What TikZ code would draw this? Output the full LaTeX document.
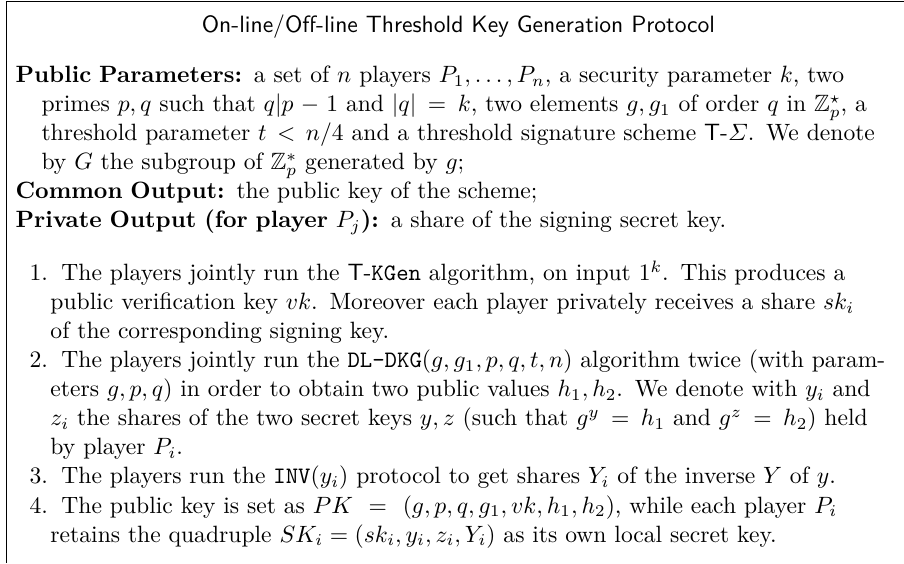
\documentclass[tikz,border=0pt]{standalone}
\usepackage{amsmath,amssymb}

\newcommand{\paramitem}[1]{\noindent\hangindent=11pt\hangafter=1\textbf{#1}}
\newcommand{\stepitem}[1]{\noindent\hangindent=8.9pt\hangafter=1\makebox[7.8pt][r]{#1}\hspace{5.75pt}}

\tikzset{
  frame/.style={line width=0.5pt},
  heading/.style={anchor=base, inner sep=0pt, font=\sffamily},
  body/.style={anchor=base west, inner sep=0pt, font=\fontsize{10}{12.3}\selectfont}
}

\begin{document}
\begin{tikzpicture}

          \useasboundingbox (0,0) rectangle (383.1pt,-238.6pt);
          \draw[frame] (383.1pt,-0.7pt) -- (2.8pt,-0.7pt) -- (2.8pt,-238.6pt);

          \node[heading] (title) at (194.3pt,-13.8pt) {On-line/Off-line Threshold Key Generation Protocol};

          \node[body, text width=376.1pt] (params) at (6.4pt,-35pt) {%
            \paramitem{Public Parameters:} a set of $n$ players $P_1,\ldots,P_n$, a security parameter $k$, two\linebreak
            primes $p,q$ such that $q|p-1$ and $|q|=k$, two elements $g,g_1$ of order $q$ in $\mathbb{Z}_p^\star$, a\linebreak
            threshold parameter $t<n/4$ and a threshold signature scheme \textsf{T-}$\varSigma$. We denote\linebreak
            by $G$ the subgroup of $\mathbb{Z}_p^*$ generated by $g$;\par
            \paramitem{Common Output:} the public key of the scheme;\par
            \paramitem{Private Output (for player $P_j$):} a share of the signing secret key.\par};

          \node[body, text width=370.2pt] (steps) at (12.3pt,-119pt) {%
            \stepitem{1.}The players jointly run the \textsf{T-}\texttt{KGen} algorithm, on input $1^k$. This produces a\linebreak
            public verification key $vk$. Moreover each player privately receives a share $sk_i$\linebreak
            of the corresponding signing key.\par
            \stepitem{2.}The players jointly run the \texttt{DL-DKG}$(g,g_1,p,q,t,n)$ algorithm twice (with~param-\linebreak
            eters $g,p,q$) in order to obtain two public values $h_1,h_2$. We denote with $y_i$ and\linebreak
            $z_i$ the shares of the two secret keys $y,z$ (such that $g^y=h_1$ and $g^z=h_2$) held\linebreak
            by player $P_i$.\par
            \stepitem{3.}The players run the \texttt{INV}$(y_i)$ protocol to get shares $Y_i$ of the inverse $Y$ of $y$.\par
            \stepitem{4.}The public key is set as $PK=(g,p,q,g_1,vk,h_1,h_2)$, while each player $P_i$\linebreak
            retains the quadruple $SK_i=(sk_i,y_i,z_i,Y_i)$ as its own local secret key.\par};

        \end{tikzpicture}
\end{document}
